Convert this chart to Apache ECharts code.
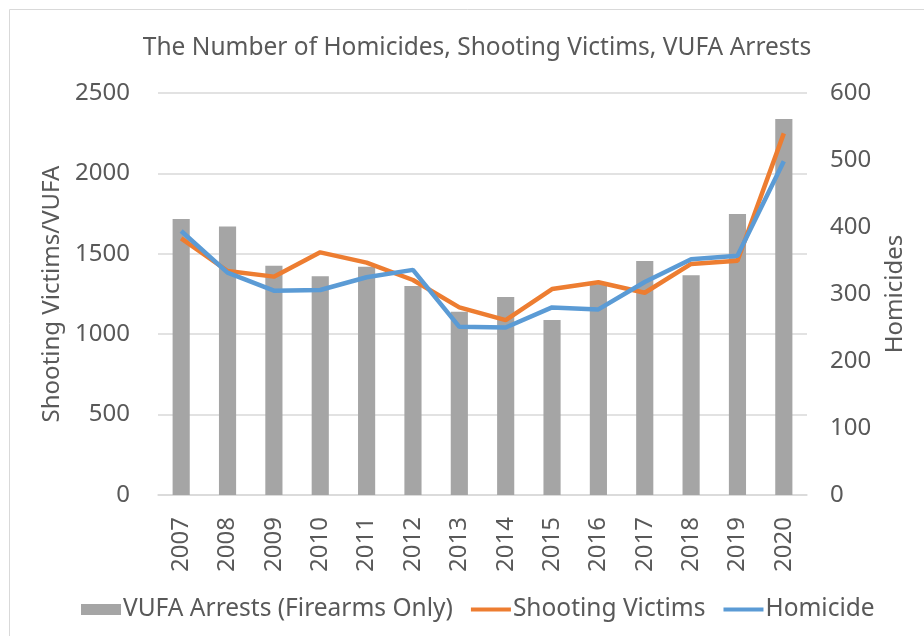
<!DOCTYPE html>
<html>
<head>
<meta charset="utf-8">
<script src="https://cdn.jsdelivr.net/npm/echarts@6/dist/echarts.min.js"></script>
<style>
  html, body { margin: 0; padding: 0; background: #fff; }
  #chart { width: 924px; height: 636px; }
</style>
</head>
<body>
<div id="chart"></div>
<script>
// data
var years = ['2007', '2008', '2009', '2010', '2011', '2012', '2013', '2014', '2015', '2016', '2017', '2018', '2019', '2020'];
var vufaArrests = [1716, 1669, 1426, 1360, 1420, 1300, 1140, 1231, 1088, 1310, 1455, 1366, 1747, 2338];
var shootingVictims = [1596, 1393, 1358, 1509, 1445, 1337, 1167, 1088, 1281, 1323, 1258, 1437, 1457, 2249];
var homicides = [394, 332, 305, 306, 325, 336, 251, 250, 280, 277, 318, 352, 357, 498];
var leftTicks = [0, 500, 1000, 1500, 2000, 2500];
var rightTicks = [0, 100, 200, 300, 400, 500, 600];

var fontName = 'Noto Sans';
var textColor = '#595959';

var chart = echarts.init(document.getElementById('chart'));

var plain = function (v) { return String(v); };
// thin line shape for the legend (aspect kept inside the icon box)
var lineIcon = 'path://M0,0 L40,0 L40,4 L0,4 Z';

var options = {
    animation: false,
    textStyle: { fontFamily: fontName, color: textColor },
    title: {
        text: 'The Number of Homicides, Shooting Victims, VUFA Arrests',
        left: 472,
        top: 31,
        textAlign: 'center',
        textStyle: { fontSize: 24.5, fontWeight: 'normal', color: textColor, fontFamily: fontName }
    },
    legend: {
        top: 592,
        left: 76,
        itemGap: 18,
        itemWidth: 40,
        itemHeight: 11,
        symbolKeepAspect: true,
        textStyle: { fontSize: 24.5, color: textColor, fontFamily: fontName, padding: [0, 0, 0, -3] },
        data: [
            { name: 'VUFA Arrests (Firearms Only)', icon: 'rect' },
            { name: 'Shooting Victims', icon: lineIcon },
            { name: 'Homicide', icon: lineIcon }
        ]
    },
    grid: { left: 158, right: 117, top: 93, bottom: 141 },
    xAxis: {
        type: 'category',
        data: years,
        axisLine: { lineStyle: { color: '#D9D9D9', width: 1.5 } },
        axisTick: { show: false },
        axisLabel: { rotate: 90, fontSize: 24, color: textColor, margin: 22, fontFamily: fontName }
    },
    yAxis: [
        {
            type: 'value',
            min: leftTicks[0],
            max: leftTicks[leftTicks.length - 1],
            interval: 500,
            name: 'Shooting Victims/VUFA',
            nameLocation: 'middle',
            nameGap: 93,
            nameTextStyle: { fontSize: 24, color: textColor, fontFamily: fontName },
            axisLabel: { fontSize: 24, color: textColor, margin: 28, fontFamily: fontName, formatter: plain },
            splitLine: { lineStyle: { color: '#D9D9D9', width: 1.5 } },
            axisLine: { show: false },
            axisTick: { show: false }
        },
        {
            type: 'value',
            min: rightTicks[0],
            max: rightTicks[rightTicks.length - 1],
            interval: 100,
            name: 'Homicides',
            nameLocation: 'middle',
            nameGap: 76,
            nameRotate: 90,
            nameTextStyle: { fontSize: 24, color: textColor, fontFamily: fontName },
            axisLabel: { fontSize: 24, color: textColor, margin: 23, fontFamily: fontName, formatter: plain },
            splitLine: { show: false },
            axisLine: { show: false },
            axisTick: { show: false }
        }
    ],
    series: [
        {
            name: 'VUFA Arrests (Firearms Only)',
            type: 'bar',
            data: vufaArrests,
            barWidth: '37%',
            itemStyle: { color: '#A5A5A5' }
        },
        {
            name: 'Shooting Victims',
            type: 'line',
            data: shootingVictims,
            symbol: 'none',
            lineStyle: { color: '#ED7D31', width: 4.5 },
            itemStyle: { color: '#ED7D31' }
        },
        {
            name: 'Homicide',
            type: 'line',
            yAxisIndex: 1,
            data: homicides,
            symbol: 'none',
            lineStyle: { color: '#5B9BD5', width: 4.5 },
            itemStyle: { color: '#5B9BD5' }
        }
    ],
    graphic: [
        {
            type: 'rect',
            shape: { x: 9.5, y: 9.5, width: 1000, height: 1000 },
            style: { fill: 'none', stroke: '#D9D9D9', lineWidth: 1 }
        }
    ]
};

chart.setOption(options);
</script>
</body>
</html>
